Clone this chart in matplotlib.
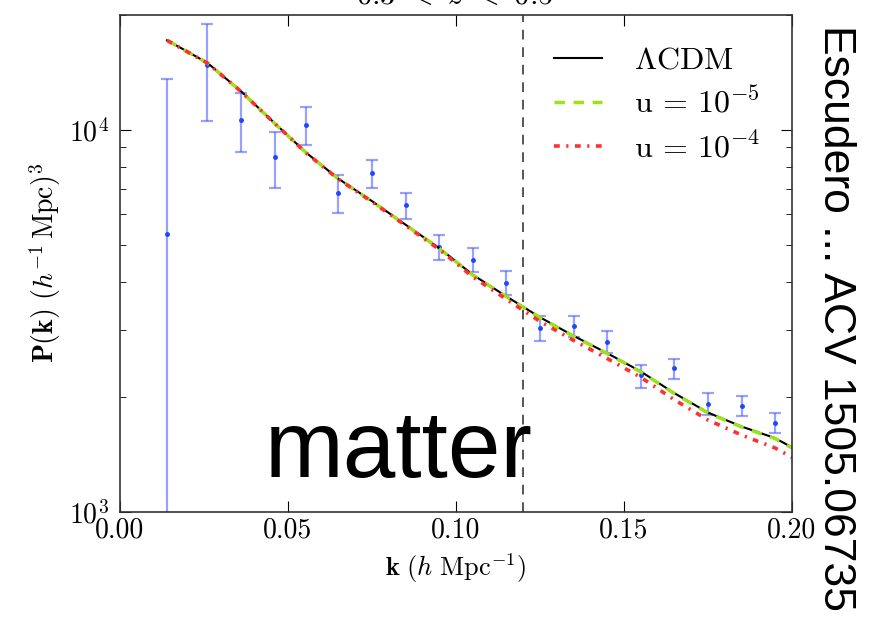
import numpy as np
import matplotlib
matplotlib.use("Agg")
import matplotlib.pyplot as plt

plt.rcParams['mathtext.fontset'] = 'cm'
plt.rcParams['font.family'] = 'serif'
plt.rcParams['font.serif'] = ['cmr10', 'DejaVu Serif']
plt.rcParams['axes.formatter.use_mathtext'] = True

# measured power spectrum (binned points)
k_data = [0.014, 0.026, 0.036, 0.046, 0.0555, 0.065, 0.075, 0.085, 0.095, 0.105,
          0.115, 0.125, 0.135, 0.145, 0.155, 0.165, 0.175, 0.185, 0.195]
pk_data = [5333, 14770, 10620, 8480, 10287, 6830, 7685, 6338, 4940, 4566,
           3969, 3027, 3064, 2786, 2275, 2373, 1921, 1895, 1707]
pk_hi = [13600, 18900, 12450, 9880, 11485, 7593, 8330, 6812, 5311, 4901,
         4257, 3246, 3259, 2977, 2425, 2515, 2045, 2012, 1813]
pk_lo = [300, 10515, 8740, 7040, 9120, 6063, 7050, 5848, 4558, 4249,
         3692, 2798, 2867, 2612, 2108, 2226, 1794, 1780, 1607]

# model curves
k_model = [0.014, 0.026, 0.036, 0.046, 0.0555, 0.065, 0.075, 0.085, 0.095, 0.105,
           0.115, 0.125, 0.135, 0.145, 0.155, 0.165, 0.175, 0.185, 0.195, 0.200]
pk_lcdm = [17130, 14950, 12600, 10400, 8690, 7440, 6500, 5640, 4900, 4173,
           3662, 3230, 2888, 2602, 2330, 2045, 1820, 1673, 1560, 1475]
pk_u5 = [17120, 14940, 12590, 10390, 8680, 7430, 6490, 5630, 4890, 4165,
         3655, 3222, 2880, 2595, 2323, 2040, 1815, 1668, 1555, 1470]
pk_u4 = [17110, 14930, 12580, 10385, 8675, 7420, 6475, 5610, 4860, 4120,
         3600, 3150, 2810, 2520, 2250, 1965, 1740, 1590, 1470, 1390]

k_split = 0.12

fig = plt.figure(figsize=(8.75, 6.17), dpi=100)
fig.subplots_adjust(left=120/875, right=792/875, top=1-14.5/617, bottom=1-512/617)
ax = fig.add_subplot(111)

pk = np.array(pk_data)
yerr = [pk - np.array(pk_lo), np.array(pk_hi) - pk]
ax.errorbar(k_data, pk_data, yerr=yerr, fmt='none', ecolor='#4455ff', alpha=0.55,
            elinewidth=1.6, capsize=4.5, capthick=1.6)
ax.plot(k_data, pk_data, '.', color='#2244ff', ms=5)

ax.plot(k_model, pk_lcdm, '-', color='black', lw=1.5, label=r'$\Lambda\mathrm{CDM}$')
ax.plot(k_model, pk_u5, '--', color='#9be21a', lw=2.5, dashes=(3, 2.5),
        label=r'$\mathrm{u}\,=\,10^{-5}$')
ax.plot(k_model, pk_u4, color='#ff3030', lw=2.6, linestyle=(0, (1.6, 1.8, 0.6, 1.8)),
        label=r'$\mathrm{u}\,=\,10^{-4}$')

ax.axvline(k_split, color='#555555', lw=1.4, ls=(0, (5, 4)))

ax.set_yscale('log')
ax.set_xlim(0, 0.20)
ax.set_ylim(1e3, 2e4)
ax.set_xticks([0.00, 0.05, 0.10, 0.15, 0.20])
ax.set_xticklabels(['0.00', '0.05', '0.10', '0.15', '0.20'])
ax.tick_params(which='both', direction='in', top=True, right=True, labelsize=20)
ax.tick_params(axis='y', pad=8)
ax.tick_params(which='major', length=8)
ax.tick_params(which='minor', length=4)
for s in ax.spines.values():
    s.set_color('#333333')
    s.set_linewidth(1.2)

ax.set_xlabel(r'$\mathbf{k}\ (h\ \mathrm{Mpc}^{-1})$', fontsize=19, labelpad=6)
ax.set_ylabel(r'$\mathbf{P(k)}\ (h^{-1}\,\mathrm{Mpc})^3$', fontsize=20, labelpad=4)

ax.legend(loc='upper right', frameon=False, fontsize=23, handlelength=1.5,
          handletextpad=1.0, labelspacing=0.38, borderaxespad=0.6)

fig.text(455/875, 1 - 4/617, r'$0.3\ <\ z\ <\ 0.5$', ha='center', va='baseline',
         fontsize=22)

ax.text(265, 617 - 477, 'matter', transform=None, fontsize=68, family='Liberation Sans',
        color='black', va='baseline', ha='left')

fig.text(835/875, 1 - 25/617, 'Escudero ... ACV 1505.06735', rotation=-90,
         ha='center', va='top', fontsize=32, family='Liberation Sans')

fig.savefig('out.png', dpi=100)
